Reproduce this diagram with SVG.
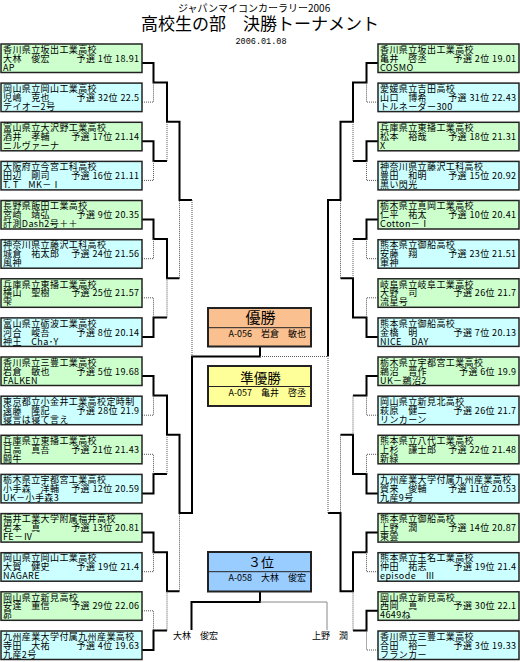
<svg xmlns="http://www.w3.org/2000/svg" width="520" height="662" viewBox="0 0 520 662">
<style>
.bx{stroke:#222;stroke-width:1.5}
.g{fill:#ccffcc}
.b{fill:#ccffff}
.t{font-family:"Noto Sans CJK JP","Noto Sans",sans-serif;font-size:9px;letter-spacing:0.4px;fill:#000}
.r{text-anchor:end}
.w{fill:none;stroke:#000;stroke-width:2}
.l{fill:none;stroke:#555;stroke-width:1;stroke-dasharray:1 1}
.m{fill:none;stroke:#888;stroke-width:1}
.cb{stroke:#222;stroke-width:2}
.sep{stroke:#222;stroke-width:1}
.h{font-family:"Noto Sans CJK JP","Noto Sans",sans-serif;fill:#000}
</style>
<rect width="520" height="662" fill="#fff"/>
<g id="title">
<text class="h" x="178" y="12" font-size="10">ジャパンマイコンカーラリー2006</text>
<text class="h" x="260" y="30" font-size="17" text-anchor="middle">高校生の部　決勝トーナメント</text>
<text x="261" y="44" font-family="Liberation Mono, monospace" font-size="8.5" text-anchor="middle">2006.01.08</text>
</g>
<g id="connectors">
<path class="w" d="M142 63H153.5V82.6H167V121.7H179.5V200H192M142 141.3H153.5V160.9H167M142 219.5H153.5V239.1H167V278.2H179.5M142 336.9H153.5V317.4H167M142 376H153.5V395.6H167V434.7H179.5V513H192V356.5H260V346.5M142 493.4H153.5V473.9H167M142 532.6H153.5V552.2H167V591.3H179.5M142 650H153.5V630.4H167"/>
<path class="l" d="M142 102.1H153.5V82.6M142 180.4H153.5V160.9M167 160.9V121.7M142 258.7H153.5V239.1M142 297.8H153.5V317.4M167 317.4V278.2M179.5 278.2V200M192 200V356.5M142 415.2H153.5V395.6M142 454.3H153.5V473.9M167 473.9V434.7M142 571.7H153.5V552.2M142 610.8H153.5V630.4M167 630.4V591.3M179.5 591.3V513M260 356.5H328"/>
<path class="w" d="M378 63H366.5V82.6H353V121.7H340.5V200H328V356.5M378 141.3H366.5V160.9H353M378 219.5H366.5V239.1H353M378 336.9H366.5V317.4H353V278.2H340.5M378 376H366.5V395.6H353M378 493.4H366.5V473.9H353V434.7H340.5M378 532.6H366.5V552.2H353V591.3H340.5V513H328M378 610.8H366.5V630.4H353"/>
<path class="l" d="M378 102.1H366.5V82.6M378 180.4H366.5V160.9M353 160.9V121.7M378 258.7H366.5V239.1M353 239.1V278.2M378 297.8H366.5V317.4M340.5 278.2V200M378 415.2H366.5V395.6M353 395.6V434.7M378 454.3H366.5V473.9M378 571.7H366.5V552.2M378 650H366.5V630.4M353 630.4V591.3M340.5 434.7V513M328 513V356.5"/>
<path class="w" d="M260 591.5V602H191.5V630"/>
<path class="m" d="M260 602H327V630"/>
</g>
<g id="winner">
<rect class="cb" x="208" y="308" width="103" height="38.5" fill="#fac090"/>
<line class="sep" x1="208" y1="327.7" x2="311" y2="327.7"/>
<text class="h" x="260.5" y="323" font-size="15" text-anchor="middle">優勝</text>
<text class="h" x="306" y="336.5" font-size="9" text-anchor="end">A-056　岩倉　敏也</text>
</g>
<g id="runnerup">
<rect class="cb" x="208" y="366" width="103" height="40" fill="#ffff99"/>
<line class="sep" x1="208" y1="386.5" x2="311" y2="386.5"/>
<text class="h" x="260.5" y="382.5" font-size="13.5" text-anchor="middle">準優勝</text>
<text class="h" x="306" y="395.5" font-size="9" text-anchor="end">A-057　亀井　啓丞</text>
</g>
<g id="third">
<rect class="cb" x="208" y="552" width="103" height="39.5" fill="#99ccff"/>
<line class="sep" x1="208" y1="571.7" x2="311" y2="571.7"/>
<text class="h" x="261" y="567" font-size="13" text-anchor="middle">３位</text>
<text class="h" x="306" y="581" font-size="9" text-anchor="end">A-058　大林　俊宏</text>
<text class="h" x="173" y="639" font-size="9">大林　俊宏</text>
<text class="h" x="312" y="639" font-size="9">上野　潤</text>
</g>
<g id="L1" transform="translate(1,44)"><rect class="bx g" width="141" height="28.5"/><text class="t" x="2" y="8.7">香川県立坂出工業高校</text><text class="t" x="2" y="17.7">大林　俊宏</text><text class="t r" x="138.5" y="17.7">予選 1位 18.91</text><text class="t" x="2" y="26.7">AP</text></g>
<g id="L2" transform="translate(1,83.1)"><rect class="bx b" width="141" height="28.5"/><text class="t" x="2" y="8.7">岡山県立岡山工業高校</text><text class="t" x="2" y="17.7">児嶋　克也</text><text class="t r" x="138.5" y="17.7">予選 32位 22.5</text><text class="t" x="2" y="26.7">テイオー2号</text></g>
<g id="L3" transform="translate(1,122.3)"><rect class="bx g" width="141" height="28.5"/><text class="t" x="2" y="8.7">富山県立大沢野工業高校</text><text class="t" x="2" y="17.7">酒井　孝輔</text><text class="t r" x="138.5" y="17.7">予選 17位 21.14</text><text class="t" x="2" y="26.7">ニルヴァーナ</text></g>
<g id="L4" transform="translate(1,161.4)"><rect class="bx b" width="141" height="28.5"/><text class="t" x="2" y="8.7">大阪府立今宮工科高校</text><text class="t" x="2" y="17.7">田辺　剛司</text><text class="t r" x="138.5" y="17.7">予選 16位 21.11</text><text class="t" x="2" y="26.7">T. T　MK－Ⅰ</text></g>
<g id="L5" transform="translate(1,200.5)"><rect class="bx g" width="141" height="28.5"/><text class="t" x="2" y="8.7">長野県飯田工業高校</text><text class="t" x="2" y="17.7">宮崎　靖弘</text><text class="t r" x="138.5" y="17.7">予選 9位 20.35</text><text class="t" x="2" y="26.7">計測Dash2号＋＋</text></g>
<g id="L6" transform="translate(1,239.7)"><rect class="bx b" width="141" height="28.5"/><text class="t" x="2" y="8.7">神奈川県立藤沢工科高校</text><text class="t" x="2" y="17.7">城倉　祐太郎</text><text class="t r" x="138.5" y="17.7">予選 24位 21.56</text><text class="t" x="2" y="26.7">風神</text></g>
<g id="L7" transform="translate(1,278.8)"><rect class="bx g" width="141" height="28.5"/><text class="t" x="2" y="8.7">兵庫県立東播工業高校</text><text class="t" x="2" y="17.7">横山　聖樹</text><text class="t r" x="138.5" y="17.7">予選 25位 21.57</text><text class="t" x="2" y="26.7">雫</text></g>
<g id="L8" transform="translate(1,317.9)"><rect class="bx b" width="141" height="28.5"/><text class="t" x="2" y="8.7">富山県立砺波工業高校</text><text class="t" x="2" y="17.7">河合　峻吾</text><text class="t r" x="138.5" y="17.7">予選 8位 20.14</text><text class="t" x="2" y="26.7">神王　Cha･Y</text></g>
<g id="L9" transform="translate(1,357)"><rect class="bx g" width="141" height="28.5"/><text class="t" x="2" y="8.7">香川県立三豊工業高校</text><text class="t" x="2" y="17.7">岩倉　敏也</text><text class="t r" x="138.5" y="17.7">予選 5位 19.68</text><text class="t" x="2" y="26.7">FALKEN</text></g>
<g id="L10" transform="translate(1,396.2)"><rect class="bx b" width="141" height="28.5"/><text class="t" x="2" y="8.7">東京都立小金井工業高校定時制</text><text class="t" x="2" y="17.7">遠藤　隆記</text><text class="t r" x="138.5" y="17.7">予選 28位 21.9</text><text class="t" x="2" y="26.7">寝言は寝て言え</text></g>
<g id="L11" transform="translate(1,435.3)"><rect class="bx g" width="141" height="28.5"/><text class="t" x="2" y="8.7">兵庫県立東播工業高校</text><text class="t" x="2" y="17.7">日高　真吾</text><text class="t r" x="138.5" y="17.7">予選 21位 21.43</text><text class="t" x="2" y="26.7">闘牛</text></g>
<g id="L12" transform="translate(1,474.4)"><rect class="bx b" width="141" height="28.5"/><text class="t" x="2" y="8.7">栃木県立宇都宮工業高校</text><text class="t" x="2" y="17.7">小手森　洋輔</text><text class="t r" x="138.5" y="17.7">予選 12位 20.59</text><text class="t" x="2" y="26.7">UK－小手森3</text></g>
<g id="L13" transform="translate(1,513.6)"><rect class="bx g" width="141" height="28.5"/><text class="t" x="2" y="8.7">福井工業大学附属福井高校</text><text class="t" x="2" y="17.7">岩本　真</text><text class="t r" x="138.5" y="17.7">予選 13位 20.81</text><text class="t" x="2" y="26.7">FE－Ⅳ</text></g>
<g id="L14" transform="translate(1,552.7)"><rect class="bx b" width="141" height="28.5"/><text class="t" x="2" y="8.7">岡山県立岡山工業高校</text><text class="t" x="2" y="17.7">大賀　健史</text><text class="t r" x="138.5" y="17.7">予選 19位 21.4</text><text class="t" x="2" y="26.7">NAGARE</text></g>
<g id="L15" transform="translate(1,591.8)"><rect class="bx g" width="141" height="28.5"/><text class="t" x="2" y="8.7">岡山県立新見高校</text><text class="t" x="2" y="17.7">安達　重信</text><text class="t r" x="138.5" y="17.7">予選 29位 22.06</text><text class="t" x="2" y="26.7">昴</text></g>
<g id="L16" transform="translate(1,631)"><rect class="bx b" width="141" height="28.5"/><text class="t" x="2" y="8.7">九州産業大学付属九州産業高校</text><text class="t" x="2" y="17.7">寺田　大祐</text><text class="t r" x="138.5" y="17.7">予選 4位 19.63</text><text class="t" x="2" y="26.7">九産2号</text></g>
<g id="R1" transform="translate(378,44)"><rect class="bx g" width="141" height="28.5"/><text class="t" x="2" y="8.7">香川県立坂出工業高校</text><text class="t" x="2" y="17.7">亀井　啓丞</text><text class="t r" x="138.5" y="17.7">予選 2位 19.01</text><text class="t" x="2" y="26.7">COSMO</text></g>
<g id="R2" transform="translate(378,83.1)"><rect class="bx b" width="141" height="28.5"/><text class="t" x="2" y="8.7">愛媛県立吉田高校</text><text class="t" x="2" y="17.7">山口　博希</text><text class="t r" x="138.5" y="17.7">予選 31位 22.43</text><text class="t" x="2" y="26.7">トルネーダー300</text></g>
<g id="R3" transform="translate(378,122.3)"><rect class="bx g" width="141" height="28.5"/><text class="t" x="2" y="8.7">兵庫県立東播工業高校</text><text class="t" x="2" y="17.7">松本　裕哉</text><text class="t r" x="138.5" y="17.7">予選 18位 21.31</text><text class="t" x="2" y="26.7">X</text></g>
<g id="R4" transform="translate(378,161.4)"><rect class="bx b" width="141" height="28.5"/><text class="t" x="2" y="8.7">神奈川県立藤沢工科高校</text><text class="t" x="2" y="17.7">豊田　和明</text><text class="t r" x="138.5" y="17.7">予選 15位 20.92</text><text class="t" x="2" y="26.7">黒い閃光</text></g>
<g id="R5" transform="translate(378,200.5)"><rect class="bx g" width="141" height="28.5"/><text class="t" x="2" y="8.7">栃木県立真岡工業高校</text><text class="t" x="2" y="17.7">仁平　祐太</text><text class="t r" x="138.5" y="17.7">予選 10位 20.41</text><text class="t" x="2" y="26.7">Cotton－Ⅰ</text></g>
<g id="R6" transform="translate(378,239.7)"><rect class="bx b" width="141" height="28.5"/><text class="t" x="2" y="8.7">熊本県立御船高校</text><text class="t" x="2" y="17.7">安藤　翔</text><text class="t r" x="138.5" y="17.7">予選 23位 21.51</text><text class="t" x="2" y="26.7">軍神</text></g>
<g id="R7" transform="translate(378,278.8)"><rect class="bx g" width="141" height="28.5"/><text class="t" x="2" y="8.7">岐阜県立岐阜工業高校</text><text class="t" x="2" y="17.7">大野　司</text><text class="t r" x="138.5" y="17.7">予選 26位 21.7</text><text class="t" x="2" y="26.7">流星号</text></g>
<g id="R8" transform="translate(378,317.9)"><rect class="bx b" width="141" height="28.5"/><text class="t" x="2" y="8.7">熊本県立御船高校</text><text class="t" x="2" y="17.7">金橋　明</text><text class="t r" x="138.5" y="17.7">予選 7位 20.13</text><text class="t" x="2" y="26.7">NICE　DAY</text></g>
<g id="R9" transform="translate(378,357)"><rect class="bx g" width="141" height="28.5"/><text class="t" x="2" y="8.7">栃木県立宇都宮工業高校</text><text class="t" x="2" y="17.7">鵜沼　晋作</text><text class="t r" x="138.5" y="17.7">予選 6位 19.9</text><text class="t" x="2" y="26.7">UK－鵜沼2</text></g>
<g id="R10" transform="translate(378,396.2)"><rect class="bx b" width="141" height="28.5"/><text class="t" x="2" y="8.7">岡山県立新見北高校</text><text class="t" x="2" y="17.7">萩原　健二</text><text class="t r" x="138.5" y="17.7">予選 26位 21.7</text><text class="t" x="2" y="26.7">リンカーン</text></g>
<g id="R11" transform="translate(378,435.3)"><rect class="bx g" width="141" height="28.5"/><text class="t" x="2" y="8.7">熊本県立八代工業高校</text><text class="t" x="2" y="17.7">上杉　謙士郎</text><text class="t r" x="138.5" y="17.7">予選 22位 21.48</text><text class="t" x="2" y="26.7">新緑</text></g>
<g id="R12" transform="translate(378,474.4)"><rect class="bx b" width="141" height="28.5"/><text class="t" x="2" y="8.7">九州産業大学付属九州産業高校</text><text class="t" x="2" y="17.7">賀来　俊輔</text><text class="t r" x="138.5" y="17.7">予選 11位 20.53</text><text class="t" x="2" y="26.7">九産9号</text></g>
<g id="R13" transform="translate(378,513.6)"><rect class="bx g" width="141" height="28.5"/><text class="t" x="2" y="8.7">熊本県立御船高校</text><text class="t" x="2" y="17.7">上野　潤</text><text class="t r" x="138.5" y="17.7">予選 14位 20.87</text><text class="t" x="2" y="26.7">東雲</text></g>
<g id="R14" transform="translate(378,552.7)"><rect class="bx b" width="141" height="28.5"/><text class="t" x="2" y="8.7">熊本県立玉名工業高校</text><text class="t" x="2" y="17.7">仲田　祐志</text><text class="t r" x="138.5" y="17.7">予選 19位 21.4</text><text class="t" x="2" y="26.7">episode　Ⅲ</text></g>
<g id="R15" transform="translate(378,591.8)"><rect class="bx g" width="141" height="28.5"/><text class="t" x="2" y="8.7">岡山県立新見高校</text><text class="t" x="2" y="17.7">西岡　真</text><text class="t r" x="138.5" y="17.7">予選 30位 22.1</text><text class="t" x="2" y="26.7">4649ね</text></g>
<g id="R16" transform="translate(378,631)"><rect class="bx b" width="141" height="28.5"/><text class="t" x="2" y="8.7">香川県立三豊工業高校</text><text class="t" x="2" y="17.7">合田　裕一</text><text class="t r" x="138.5" y="17.7">予選 3位 19.33</text><text class="t" x="2" y="26.7">フランカー</text></g>
</svg>
